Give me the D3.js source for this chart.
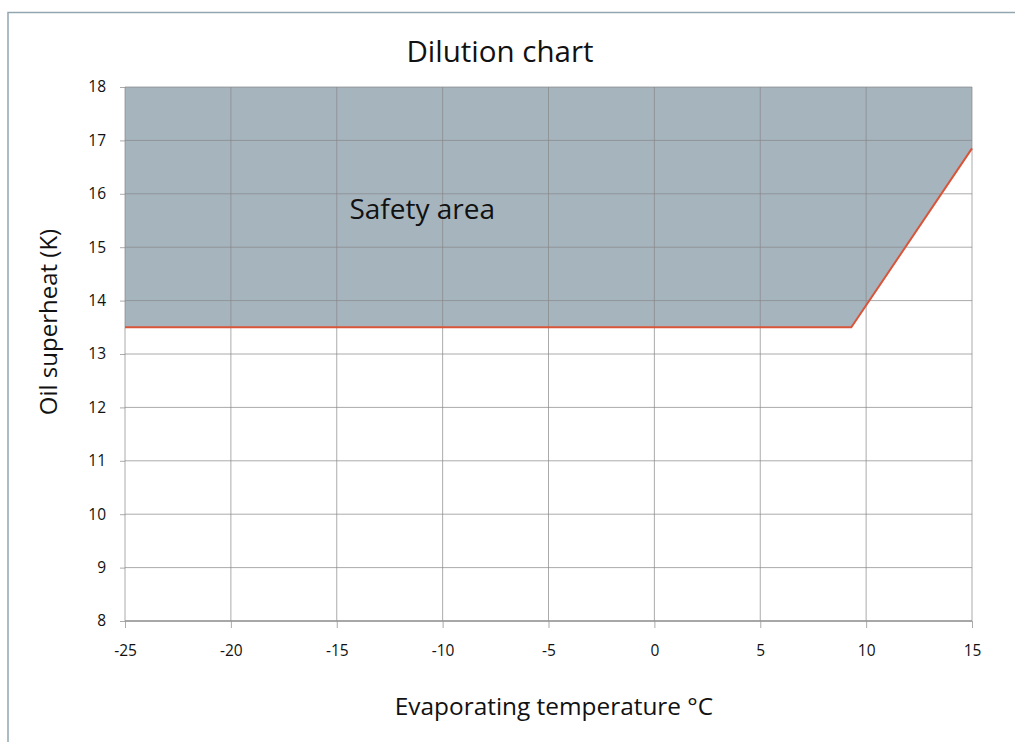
<!DOCTYPE html>
<html>
<head>
<meta charset="utf-8">
<script src="https://cdn.jsdelivr.net/npm/d3@7"></script>
<style>
  body { margin: 0; background: #fff; }
  text { font-family: "Open Sans", "Noto Sans", sans-serif; fill: #111; }
</style>
</head>
<body>
<div id="chart"></div>
<script>
// Data
const xTicks = [-25, -20, -15, -10, -5, 0, 5, 10, 15];
const yTicks = [8, 9, 10, 11, 12, 13, 14, 15, 16, 17, 18];
const limitTemp = [-25, 9.3, 15];
const limitSuperheat = [13.5, 13.5, 16.85];

const svgWidth = 1015;
const svgHeight = 742;
const margin = { top: 87, right: 43, bottom: 121, left: 125 };
const width = svgWidth - margin.left - margin.right;
const height = svgHeight - margin.top - margin.bottom;

const svg = d3.select("#chart")
    .append("svg")
    .attr("width", svgWidth)
    .attr("height", svgHeight);

// frame round the picture
svg.append("path")
    .attr("d", `M8,${svgHeight} V12.5 H${svgWidth}`)
    .attr("fill", "none")
    .attr("stroke", "#93a6b0")
    .attr("stroke-width", 1.5);

const g = svg.append("g")
    .attr("transform", `translate(${margin.left},${margin.top})`);

const x = d3.scaleLinear().domain([-25, 15]).range([0, width]);
const y = d3.scaleLinear().domain([8, 18]).range([height, 0]);

const limit = limitTemp.map((t, i) => ({ t: t, s: limitSuperheat[i] }));

// safety area: everything above the limit line
const area = d3.area()
    .x(d => x(d.t))
    .y0(y(18))
    .y1(d => y(d.s));

g.append("path")
    .datum(limit)
    .attr("d", area)
    .attr("fill", "#a6b4be");

// grid
g.append("g")
    .selectAll("line")
    .data(yTicks)
    .enter()
    .append("line")
    .attr("x1", 0)
    .attr("x2", width)
    .attr("y1", d => y(d))
    .attr("y2", d => y(d))
    .attr("stroke", "#888")
    .attr("stroke-opacity", 0.7);

g.append("g")
    .selectAll("line")
    .data(xTicks)
    .enter()
    .append("line")
    .attr("x1", d => x(d))
    .attr("x2", d => x(d))
    .attr("y1", 0)
    .attr("y2", height)
    .attr("stroke", "#888")
    .attr("stroke-opacity", 0.7);

// axes
const xAxis = d3.axisBottom(x).tickValues(xTicks).tickSize(7).tickPadding(17).tickFormat(d => String(d));
const yAxis = d3.axisLeft(y).tickValues(yTicks).tickSize(5).tickPadding(14).tickFormat(d => String(d));

const xg = g.append("g")
    .attr("transform", `translate(0,${height})`)
    .call(xAxis);
const yg = g.append("g").call(yAxis);

[xg, yg].forEach(a => {
    a.select(".domain").remove();
    a.selectAll(".tick line").attr("stroke", "#888").attr("stroke-opacity", 0.7);
    a.selectAll(".tick text")
        .attr("font-family", "'Open Sans', sans-serif")
        .attr("font-size", "15.5px")
        .attr("fill", "#111");
});
xg.append("line")
    .attr("x1", 0).attr("x2", width)
    .attr("stroke", "#999").attr("stroke-width", 1.5);

// limit line
const line = d3.line()
    .x(d => x(d.t))
    .y(d => y(d.s));

g.append("path")
    .datum(limit)
    .attr("d", line)
    .attr("fill", "none")
    .attr("stroke", "#d9553a")
    .attr("stroke-width", 2);

// labels
g.append("text")
    .attr("x", x(-14.4))
    .attr("y", y(15.52))
    .attr("font-size", "28px")
    .text("Safety area");

svg.append("text")
    .attr("x", 500)
    .attr("y", 62)
    .attr("text-anchor", "middle")
    .attr("font-size", "29.5px")
    .text("Dilution chart");

svg.append("text")
    .attr("transform", "translate(57, 322) rotate(-90)")
    .attr("text-anchor", "middle")
    .attr("font-size", "24px")
    .text("Oil superheat (K)");

svg.append("text")
    .attr("x", 554)
    .attr("y", 715)
    .attr("text-anchor", "middle")
    .attr("font-size", "24.4px")
    .text("Evaporating temperature °C");
</script>
</body>
</html>
